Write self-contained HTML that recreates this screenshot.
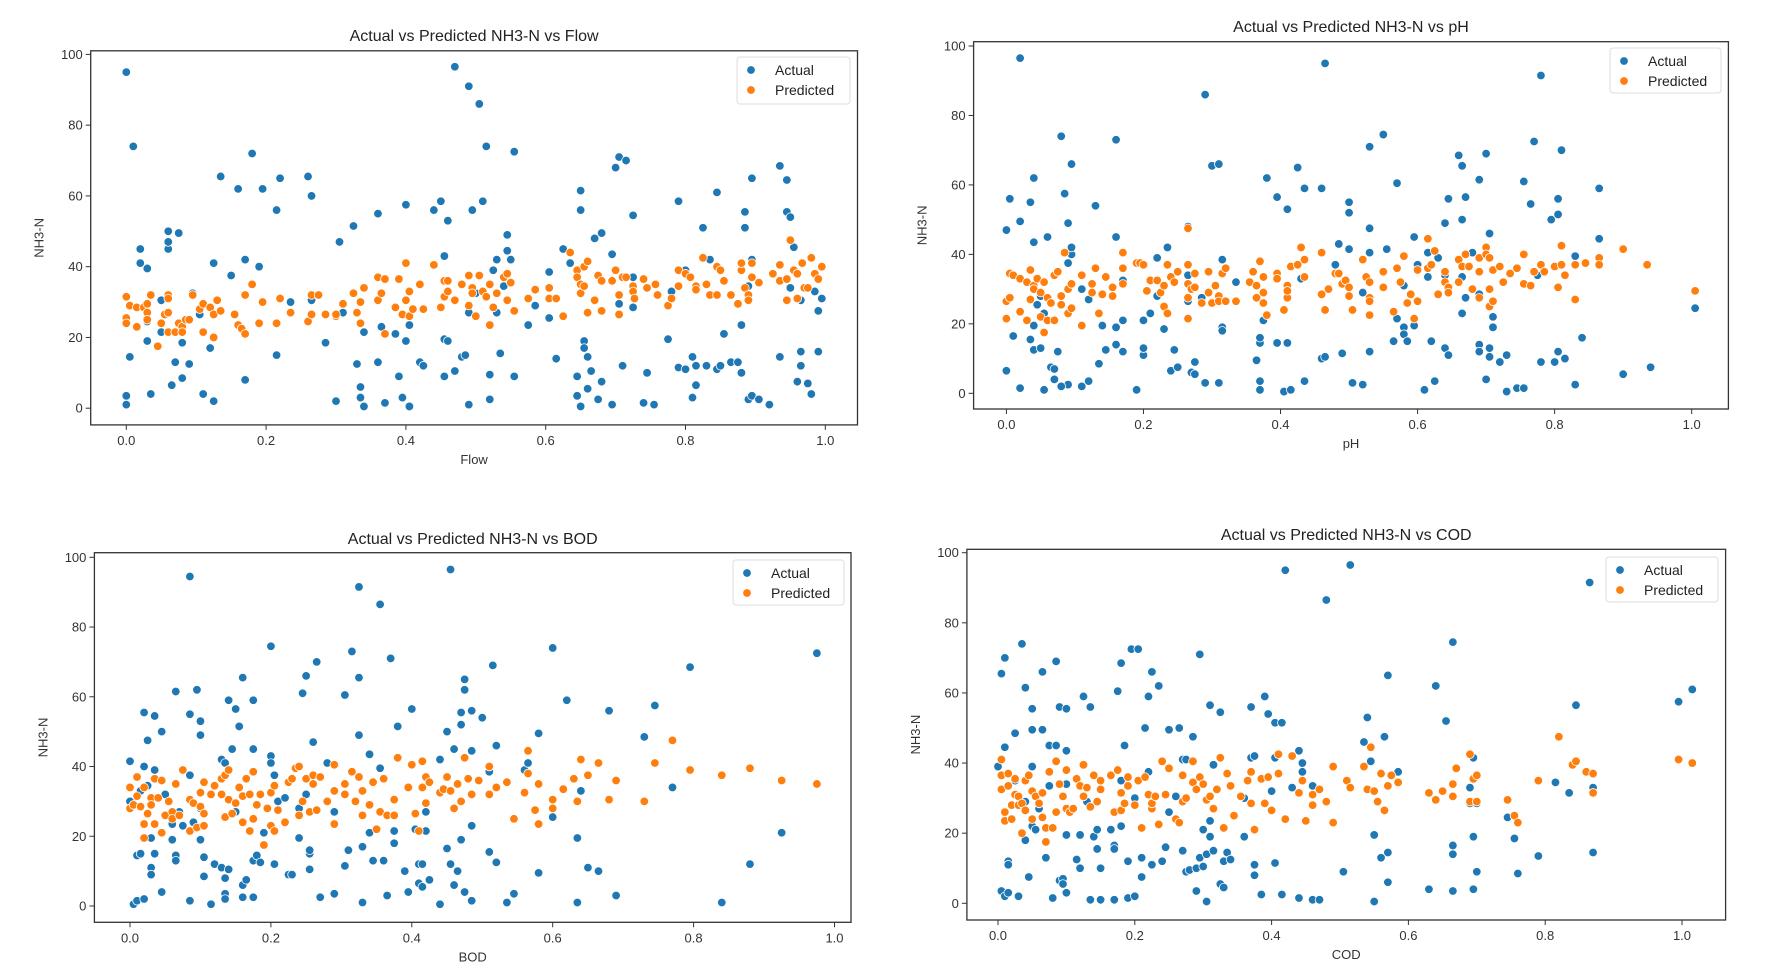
<!DOCTYPE html>
<html><head><meta charset="utf-8">
<style>
html,body{margin:0;padding:0;background:#fff;}
svg{display:block;font-family:"Liberation Sans",sans-serif;}
</style></head>
<body>
<svg id="fig" width="1772" height="971" viewBox="0 0 1772 971"></svg>
<script>
const yTicks=[0,20,40,60,80,100];
const xTicks=[0,0.2,0.4,0.6,0.8,1.0];
const xTickLabels=["0.0","0.2","0.4","0.6","0.8","1.0"];
const yTickLabels=["0","20","40","60","80","100"];
const titles=["Actual vs Predicted NH3-N vs Flow","Actual vs Predicted NH3-N vs pH","Actual vs Predicted NH3-N vs BOD","Actual vs Predicted NH3-N vs COD"];
const xLabels=["Flow","pH","BOD","COD"];

const flowActual=[[0,95],[0.01,74],[0,1],[0,3.5],[0.005,14.5],[0.02,41],[0.02,45],[0.03,39.5],[0.03,24.5],[0.03,19],[0.035,4],[0.05,30.5],[0.05,21.5],[0.06,45],[0.06,50],[0.06,47],[0.075,49.5],[0.065,6.5],[0.07,13],[0.08,8.5],[0.08,18.5],[0.09,12.5],[0.095,32.5],[0.105,26.5],[0.11,4],[0.125,41],[0.12,17],[0.125,2],[0.135,65.5],[0.15,37.5],[0.16,62],[0.17,42],[0.17,8],[0.18,72],[0.19,40],[0.195,62],[0.215,56],[0.22,65],[0.215,15],[0.235,30],[0.26,65.5],[0.265,60],[0.265,30.5],[0.285,18.5],[0.3,2],[0.305,47],[0.31,27],[0.325,51.5],[0.33,12.5],[0.335,6],[0.335,3],[0.34,0.5],[0.34,21.5],[0.36,55],[0.36,13],[0.365,23],[0.37,1.5],[0.385,21],[0.39,9],[0.395,3],[0.4,57.5],[0.4,19],[0.405,23.5],[0.405,0.5],[0.42,13],[0.425,12],[0.44,56],[0.45,58.5],[0.46,53],[0.455,43],[0.455,19.5],[0.46,19],[0.455,9],[0.47,96.5],[0.47,10.5],[0.48,14.5],[0.485,15],[0.49,91],[0.49,1],[0.495,56],[0.505,86],[0.51,58.5],[0.515,74],[0.49,27],[0.5,32.5],[0.52,9.5],[0.52,2.5],[0.525,39],[0.53,42],[0.53,27],[0.535,15.5],[0.545,49],[0.545,44.5],[0.55,42],[0.555,72.5],[0.555,9],[0.54,34.5],[0.575,23.5],[0.585,29],[0.605,38.5],[0.605,25.5],[0.615,14],[0.625,45],[0.635,41],[0.65,61.5],[0.65,56],[0.655,19],[0.655,17],[0.66,14.5],[0.665,10.5],[0.66,5.5],[0.645,9],[0.645,3.5],[0.65,0.5],[0.67,48],[0.68,49.5],[0.68,7.5],[0.675,2.5],[0.695,43.5],[0.695,1],[0.7,68],[0.705,71],[0.715,70],[0.705,29.5],[0.71,12],[0.725,54.5],[0.725,28.5],[0.725,37],[0.745,10],[0.74,1.5],[0.755,1],[0.775,19.5],[0.78,33],[0.79,58.5],[0.79,11.5],[0.8,11],[0.8,39],[0.81,14.5],[0.81,3],[0.815,6.5],[0.815,12],[0.825,51],[0.83,12],[0.835,42],[0.845,61],[0.845,11],[0.85,12],[0.855,21],[0.865,13],[0.875,13],[0.88,23.5],[0.88,10],[0.885,51],[0.885,55.5],[0.89,2.5],[0.895,65],[0.895,42],[0.89,34.5],[0.895,3.5],[0.905,2.5],[0.92,1],[0.935,14.5],[0.935,68.5],[0.945,64.5],[0.945,55.5],[0.95,54],[0.955,45.5],[0.95,34],[0.96,7.5],[0.965,16],[0.965,12],[0.965,30.5],[0.975,7],[0.98,4],[0.985,33],[0.99,16],[0.99,27.5],[0.995,31]];
const flowPred=[[0,31.5],[0,25.5],[0,24],[0.005,29],[0.015,23],[0.015,28.5],[0.025,28.5],[0.03,29.5],[0.03,27],[0.035,32],[0.03,25],[0.05,24],[0.045,17.5],[0.055,26.5],[0.06,32],[0.06,31],[0.06,27],[0.06,21.5],[0.07,21.5],[0.075,24],[0.08,23],[0.08,21.5],[0.085,25],[0.09,25],[0.095,32],[0.105,28],[0.11,29.5],[0.11,21.5],[0.12,28.5],[0.125,26.5],[0.125,20],[0.13,30.5],[0.135,27.5],[0.155,26.5],[0.16,23.5],[0.165,22.5],[0.17,21],[0.17,32],[0.18,35],[0.19,24],[0.195,30],[0.215,24],[0.22,31],[0.235,27],[0.26,24.5],[0.265,32],[0.265,26.5],[0.275,32],[0.285,26.5],[0.3,26],[0.3,26.5],[0.31,29.5],[0.325,32.5],[0.33,27],[0.335,24],[0.335,30],[0.34,34],[0.36,37],[0.36,30.5],[0.365,32.5],[0.37,36.5],[0.37,21],[0.385,28.5],[0.39,36.5],[0.395,26.5],[0.4,30.5],[0.4,41],[0.405,33],[0.405,26],[0.41,28],[0.42,35],[0.425,28],[0.44,40.5],[0.45,28.5],[0.455,31.5],[0.455,36],[0.46,33],[0.46,36],[0.47,30.5],[0.48,35],[0.49,37.5],[0.49,29],[0.495,34],[0.495,32.5],[0.5,26],[0.505,37.5],[0.51,33],[0.515,31.5],[0.52,23.5],[0.525,28.5],[0.52,35],[0.53,32.5],[0.54,37],[0.545,38],[0.545,30.5],[0.55,35.5],[0.555,27.5],[0.575,31],[0.585,33.5],[0.605,34],[0.605,31],[0.615,31],[0.625,26],[0.635,44],[0.645,39],[0.645,37],[0.65,32.5],[0.65,35],[0.655,40],[0.66,41.5],[0.66,27],[0.655,34.5],[0.67,30.5],[0.675,37.5],[0.68,36],[0.68,27.5],[0.695,36],[0.7,39],[0.705,32],[0.705,26.5],[0.71,37],[0.715,37],[0.725,34.5],[0.725,33],[0.727,31],[0.74,36.5],[0.745,34],[0.757,35],[0.76,32],[0.775,29],[0.78,31],[0.79,34.5],[0.79,39],[0.8,38],[0.807,37],[0.815,34.5],[0.815,33.5],[0.825,42.5],[0.83,35],[0.835,32],[0.845,32],[0.845,40],[0.85,39],[0.855,36],[0.865,32],[0.875,29.5],[0.88,39],[0.88,41],[0.885,34],[0.89,32],[0.89,30.5],[0.895,41],[0.895,37],[0.905,35.5],[0.925,38],[0.935,36],[0.935,40.5],[0.945,30.5],[0.945,36.5],[0.95,47.5],[0.955,39],[0.96,31],[0.96,38],[0.967,41],[0.97,34],[0.975,34],[0.98,42.5],[0.985,38],[0.99,36.5],[0.995,40]];

const phActual=[[0,47],[0.005,56],[0,6.5],[0.02,96.5],[0.02,49.5],[0.01,16.5],[0.02,1.5],[0.035,55],[0.04,43.5],[0.04,62],[0.035,15.5],[0.04,12.5],[0.04,19.5],[0.045,25.5],[0.05,28],[0.055,23],[0.05,13],[0.06,45],[0.055,1],[0.065,7.5],[0.07,7],[0.07,4],[0.075,12],[0.08,74],[0.085,57.5],[0.09,49],[0.09,37.5],[0.095,40],[0.095,42],[0.095,66],[0.09,2.5],[0.08,2],[0.11,30],[0.11,2],[0.13,54],[0.12,27],[0.12,3.5],[0.135,8.5],[0.14,19.5],[0.145,12.5],[0.16,73],[0.16,45],[0.16,14],[0.16,19],[0.17,32.5],[0.17,21],[0.17,12],[0.19,1],[0.2,11],[0.2,13],[0.2,21],[0.21,23],[0.22,39],[0.22,28],[0.235,42],[0.23,18.5],[0.245,12.5],[0.24,6.5],[0.25,7.5],[0.265,48],[0.265,34],[0.265,26.5],[0.27,6],[0.275,5.5],[0.275,9],[0.285,27.5],[0.29,86],[0.29,3],[0.3,65.5],[0.31,66],[0.315,38.5],[0.315,19],[0.315,18],[0.31,3],[0.335,32],[0.365,9.5],[0.37,14.5],[0.37,16],[0.37,3.5],[0.37,1],[0.375,21],[0.38,62],[0.395,56.5],[0.395,14.5],[0.41,53],[0.41,30.5],[0.41,14.5],[0.405,0.5],[0.415,1],[0.425,65],[0.43,33],[0.435,59],[0.435,3.5],[0.46,59],[0.46,10],[0.465,95],[0.465,10.5],[0.48,37],[0.485,43],[0.49,11.5],[0.5,55],[0.5,52],[0.5,41.5],[0.505,3],[0.52,2.5],[0.52,29],[0.53,71],[0.53,47.5],[0.53,40.5],[0.53,12],[0.55,74.5],[0.555,41.5],[0.565,15],[0.57,60.5],[0.57,21.5],[0.58,19],[0.58,17],[0.585,15],[0.58,31],[0.595,45],[0.595,19.5],[0.6,37],[0.61,1],[0.615,40.5],[0.615,33.5],[0.62,15],[0.625,3.5],[0.63,39],[0.64,49],[0.64,34],[0.64,13],[0.645,56],[0.645,11],[0.66,68.5],[0.665,65.5],[0.665,50],[0.665,33.5],[0.665,23],[0.67,56.5],[0.67,27.5],[0.68,40.5],[0.69,61.5],[0.69,28.5],[0.69,14],[0.69,12],[0.7,69],[0.7,4],[0.705,46],[0.705,13],[0.705,10.5],[0.71,22],[0.71,19],[0.72,9],[0.73,0.5],[0.73,11],[0.745,1.5],[0.755,61],[0.755,1.5],[0.765,54.5],[0.77,72.5],[0.775,34],[0.78,91.5],[0.78,9],[0.795,50],[0.8,9],[0.805,56],[0.805,51.5],[0.805,12],[0.81,70],[0.815,10],[0.83,39.5],[0.83,2.5],[0.84,16],[0.865,44.5],[0.865,59],[0.9,5.5],[0.94,7.5],[1.005,24.5]];
const phPred=[[0,21.5],[0,26.5],[0.005,27.5],[0.005,34.5],[0.01,34],[0.02,33],[0.02,23.5],[0.03,21],[0.03,32],[0.035,35.5],[0.035,27],[0.04,31],[0.04,30],[0.045,33],[0.05,29],[0.05,22],[0.055,32],[0.055,17.5],[0.06,27.5],[0.06,21],[0.065,26],[0.07,21],[0.07,34],[0.075,35],[0.08,28],[0.08,25.5],[0.085,40.5],[0.09,30],[0.09,23],[0.095,24.5],[0.095,31.5],[0.11,34],[0.11,19.5],[0.125,31.5],[0.125,29],[0.13,36],[0.135,23],[0.14,28.5],[0.145,33.5],[0.155,30.5],[0.155,28],[0.17,40.5],[0.17,36],[0.17,31.5],[0.19,37.5],[0.195,37.5],[0.2,37],[0.205,29.5],[0.21,32.5],[0.22,32.5],[0.225,29],[0.23,31],[0.23,25],[0.235,23],[0.235,37],[0.24,33.5],[0.245,32],[0.25,35],[0.265,47.5],[0.265,37],[0.265,31.5],[0.27,30],[0.265,27.5],[0.265,21.5],[0.275,34.5],[0.275,30.5],[0.285,26],[0.295,35],[0.295,29],[0.3,26],[0.305,31],[0.31,28],[0.31,26.5],[0.315,34.5],[0.32,36],[0.32,26.5],[0.335,26.5],[0.355,32],[0.36,35],[0.365,31],[0.365,27.5],[0.37,38],[0.375,33.5],[0.375,29],[0.375,26],[0.38,22.5],[0.395,34.5],[0.395,33],[0.405,24],[0.41,31],[0.41,27.5],[0.41,29.5],[0.415,36.5],[0.425,37],[0.43,42],[0.435,33.5],[0.435,38.5],[0.46,28.5],[0.46,40.5],[0.465,24],[0.47,30],[0.48,34.5],[0.485,34.5],[0.49,31.5],[0.495,32.5],[0.5,28],[0.5,30.5],[0.505,24],[0.52,38.5],[0.525,33.5],[0.53,27.5],[0.53,26.5],[0.53,22.5],[0.53,32],[0.55,35],[0.55,30.5],[0.565,23.5],[0.57,36],[0.575,32],[0.58,39.5],[0.585,26],[0.59,28.5],[0.595,21.5],[0.6,26.5],[0.6,35.5],[0.615,36],[0.615,44.5],[0.62,37],[0.625,41],[0.63,28.5],[0.64,32],[0.64,35],[0.645,30.5],[0.645,29],[0.66,38.5],[0.66,32],[0.665,36.5],[0.67,40],[0.675,36.5],[0.68,30],[0.69,39],[0.69,35],[0.69,27.5],[0.7,42],[0.7,40],[0.705,39],[0.705,30],[0.705,25],[0.71,26.5],[0.71,35.5],[0.72,36.5],[0.725,32],[0.735,34.5],[0.745,36],[0.755,40],[0.755,31.5],[0.765,31],[0.77,35],[0.78,37],[0.785,35],[0.8,36.5],[0.805,30.5],[0.81,42.5],[0.81,37],[0.815,34],[0.83,37],[0.83,27],[0.845,37.5],[0.865,39],[0.865,37],[0.9,41.5],[0.935,37],[1.005,29.5]];

const bodActual=[[0,41.5],[0,30],[0.005,0.5],[0.01,1.5],[0.02,2],[0.01,14.5],[0.015,15],[0.015,33],[0.02,55.5],[0.02,40],[0.025,47.5],[0.025,34.5],[0.03,19.5],[0.03,11],[0.03,9],[0.035,39],[0.035,54.5],[0.035,15],[0.045,50],[0.045,4],[0.05,32],[0.06,19],[0.06,23.5],[0.065,14.5],[0.065,13],[0.065,61.5],[0.07,27],[0.075,23],[0.085,55],[0.085,37.5],[0.085,94.5],[0.085,1.5],[0.09,24],[0.095,62],[0.1,53],[0.1,49],[0.1,19],[0.1,28],[0.105,8.5],[0.105,14],[0.115,0.5],[0.12,12],[0.13,11],[0.13,42],[0.135,41],[0.135,8],[0.135,3.5],[0.135,2],[0.14,10.5],[0.14,59],[0.145,45],[0.15,56.5],[0.15,27],[0.155,51.5],[0.16,65.5],[0.16,2.5],[0.16,6],[0.165,7.5],[0.175,45],[0.175,59],[0.175,13],[0.175,2.5],[0.18,14.5],[0.185,12.5],[0.19,21],[0.2,43],[0.2,41],[0.2,74.5],[0.205,37.5],[0.205,12],[0.21,30],[0.22,31],[0.225,9],[0.23,9],[0.24,19.5],[0.24,28],[0.245,61],[0.25,66],[0.25,32],[0.255,10.5],[0.255,15],[0.255,16],[0.26,47],[0.265,70],[0.27,2.5],[0.28,41],[0.29,27],[0.29,3.5],[0.305,60.5],[0.305,11.5],[0.31,16],[0.315,73],[0.325,65.5],[0.325,49],[0.325,91.5],[0.33,17],[0.33,1],[0.34,21],[0.34,43.5],[0.345,13],[0.355,39.5],[0.355,86.5],[0.36,13],[0.365,3],[0.37,71],[0.375,21.5],[0.375,18],[0.38,51.5],[0.39,10],[0.395,4],[0.4,56.5],[0.405,22],[0.41,12],[0.41,6.5],[0.415,5.5],[0.415,12],[0.42,27],[0.42,21.5],[0.425,7.5],[0.44,42],[0.44,0.5],[0.45,50],[0.45,16.5],[0.455,96.5],[0.455,12],[0.46,45],[0.46,6],[0.465,10],[0.47,55.5],[0.47,52],[0.47,19],[0.475,65],[0.475,62],[0.475,4],[0.485,56],[0.485,44.5],[0.485,23],[0.485,1.5],[0.5,54],[0.51,38.5],[0.51,15.5],[0.515,69],[0.52,46],[0.52,12.5],[0.535,1],[0.545,3.5],[0.56,39],[0.565,41],[0.58,49.5],[0.58,9.5],[0.6,74],[0.6,25.5],[0.62,59],[0.635,19.5],[0.635,1],[0.64,33],[0.65,11],[0.665,10],[0.68,56],[0.69,3],[0.73,48.5],[0.745,57.5],[0.77,34],[0.795,68.5],[0.84,1],[0.88,12],[0.925,21],[0.975,72.5]];
const bodPred=[[0,28],[0,34],[0.005,29],[0.01,31.5],[0.01,37],[0.015,28.5],[0.02,23.5],[0.02,19.5],[0.02,34],[0.025,26.5],[0.03,31],[0.03,29],[0.035,36.5],[0.035,23.5],[0.04,31],[0.045,36],[0.045,21],[0.05,26],[0.055,30],[0.06,27],[0.06,25],[0.065,35],[0.07,26],[0.075,39],[0.085,30.5],[0.085,21.5],[0.09,29.5],[0.095,22.5],[0.1,32.5],[0.1,28.5],[0.105,35.5],[0.105,26.5],[0.105,23],[0.115,32],[0.12,34.5],[0.13,36.5],[0.13,32],[0.135,37.5],[0.135,25.5],[0.14,30.5],[0.14,39],[0.145,26.5],[0.15,29.5],[0.155,34],[0.16,31.5],[0.16,24],[0.165,36.5],[0.17,32],[0.17,21.5],[0.175,38.5],[0.175,25],[0.18,29],[0.185,32],[0.19,17.5],[0.195,28],[0.2,23],[0.2,32.5],[0.205,34.5],[0.205,21.5],[0.21,27.5],[0.22,24],[0.225,35.5],[0.23,36.5],[0.235,39.5],[0.24,40],[0.24,26],[0.245,30],[0.25,36.5],[0.255,27],[0.26,37.5],[0.26,35],[0.265,27.5],[0.27,37],[0.28,30],[0.29,40.5],[0.29,33],[0.29,23.5],[0.305,35],[0.305,32],[0.315,38.5],[0.32,30],[0.325,37],[0.33,33],[0.33,26],[0.34,29],[0.345,35.5],[0.35,22],[0.355,27],[0.36,36.5],[0.365,26],[0.375,26],[0.375,30.5],[0.38,42.5],[0.395,34],[0.4,40.5],[0.405,26.5],[0.41,21.5],[0.415,34],[0.415,41.5],[0.42,37],[0.42,29.5],[0.425,35.5],[0.44,32.5],[0.445,33.5],[0.45,37],[0.455,33],[0.46,28],[0.465,35],[0.47,30],[0.475,42.5],[0.48,36.5],[0.485,32],[0.495,36],[0.51,40],[0.51,32],[0.52,34],[0.535,35.5],[0.545,25],[0.56,32.5],[0.565,38],[0.565,44.5],[0.575,27.5],[0.58,23.5],[0.58,35],[0.6,28],[0.6,30.5],[0.615,33.5],[0.63,36.5],[0.635,30],[0.64,42],[0.65,37.5],[0.665,41],[0.68,30.5],[0.69,36],[0.73,30],[0.745,41],[0.77,47.5],[0.795,39],[0.84,37.5],[0.88,39.5],[0.925,36],[0.975,35]];

const codActual=[[0.005,65.5],[0,39],[0.01,44.5],[0.01,70],[0.005,3.5],[0.01,2],[0.015,3],[0.015,12],[0.015,11],[0.025,48.5],[0.025,35],[0.03,2],[0.035,74],[0.04,61.5],[0.04,18],[0.04,29],[0.045,7.5],[0.05,55.5],[0.05,49.5],[0.05,39],[0.05,22],[0.055,21],[0.06,27],[0.065,66],[0.065,49.5],[0.07,13],[0.075,45],[0.075,33.5],[0.08,1.5],[0.085,69],[0.085,45],[0.09,56],[0.09,6.5],[0.095,7],[0.095,5.5],[0.1,3],[0.1,34],[0.1,55.5],[0.1,43.5],[0.1,19.5],[0.11,27],[0.115,12.5],[0.12,10],[0.12,19.5],[0.125,59],[0.13,29],[0.135,56],[0.135,1],[0.14,19],[0.145,21],[0.145,15.5],[0.15,1],[0.15,10],[0.165,21],[0.17,16.5],[0.17,15.5],[0.17,1],[0.175,60.5],[0.18,68.5],[0.18,35],[0.18,22],[0.185,45],[0.19,12],[0.19,1.5],[0.195,72.5],[0.2,2],[0.2,30],[0.205,72.5],[0.21,13],[0.21,7.5],[0.215,50],[0.22,59],[0.22,37.5],[0.225,66],[0.225,11],[0.235,62],[0.24,12],[0.245,16],[0.25,26],[0.25,49.5],[0.26,30.5],[0.265,50],[0.27,41],[0.27,15],[0.275,41],[0.275,9],[0.28,9.5],[0.285,47.5],[0.29,10],[0.29,3.5],[0.295,71],[0.295,13],[0.3,21],[0.3,10.5],[0.305,0.5],[0.305,14],[0.31,56.5],[0.31,23.5],[0.31,19],[0.315,39.5],[0.315,15],[0.325,54.5],[0.325,5.5],[0.33,4.5],[0.33,12],[0.335,14.5],[0.34,12.5],[0.36,30],[0.36,19],[0.37,56],[0.37,41.5],[0.375,42],[0.375,11],[0.375,8],[0.385,2.5],[0.39,59],[0.395,54],[0.4,32],[0.405,51.5],[0.405,41.5],[0.405,11.5],[0.415,51.5],[0.415,2.5],[0.42,95],[0.43,33],[0.44,43.5],[0.44,1.5],[0.445,37.5],[0.445,40],[0.46,33.5],[0.46,1],[0.47,1],[0.48,86.5],[0.49,23],[0.505,9],[0.515,96.5],[0.535,46],[0.54,53],[0.545,40.5],[0.55,0.5],[0.55,19.5],[0.56,13],[0.565,47.5],[0.57,14.5],[0.57,6],[0.57,65],[0.585,37.5],[0.63,4],[0.64,62],[0.655,52],[0.665,74.5],[0.665,14],[0.665,16.5],[0.665,3.5],[0.69,28.5],[0.69,33],[0.695,19],[0.695,4],[0.695,41.5],[0.7,9],[0.7,28.5],[0.745,24.5],[0.755,18.5],[0.76,8.5],[0.79,13.5],[0.815,34.5],[0.835,31.5],[0.845,56.5],[0.865,91.5],[0.87,14.5],[0.87,33],[0.995,57.5],[1.015,61]];
const codPred=[[0.005,41],[0.005,36.5],[0.005,32.5],[0.01,26],[0.01,23.5],[0.015,37],[0.015,33.5],[0.02,28],[0.02,24],[0.025,35.5],[0.025,31],[0.03,28],[0.03,30.5],[0.035,20],[0.035,28.5],[0.04,26.5],[0.04,35],[0.045,36.5],[0.05,32],[0.05,24],[0.055,30.5],[0.06,28.5],[0.065,31.5],[0.065,24.5],[0.07,17.5],[0.07,21.5],[0.075,37.5],[0.08,21.5],[0.085,40.5],[0.085,26],[0.09,34],[0.095,30.5],[0.1,27],[0.1,38],[0.105,26],[0.11,27],[0.115,35.5],[0.12,33.5],[0.125,39.5],[0.125,30.5],[0.13,33],[0.135,27.5],[0.14,36.5],[0.145,29],[0.15,32.5],[0.15,35],[0.165,36.5],[0.17,26],[0.175,38],[0.18,26.5],[0.18,31.5],[0.185,28.5],[0.19,36],[0.19,33.5],[0.2,28],[0.205,35],[0.21,21.5],[0.215,36],[0.22,31],[0.225,27],[0.225,28.5],[0.23,30.5],[0.235,22.5],[0.24,40.5],[0.245,31],[0.25,38.5],[0.26,24],[0.265,23],[0.27,29],[0.27,36.5],[0.275,30],[0.285,34.5],[0.285,40.5],[0.29,32.5],[0.295,36],[0.3,34],[0.305,29.5],[0.31,30.5],[0.315,27],[0.32,32.5],[0.325,41.5],[0.33,21.5],[0.335,37],[0.34,33.5],[0.345,25],[0.355,30.5],[0.365,35],[0.37,37.5],[0.37,28.5],[0.375,21],[0.385,35.5],[0.39,28.5],[0.395,36],[0.4,26.5],[0.41,37],[0.41,42.5],[0.42,24],[0.43,42],[0.44,31.5],[0.445,35],[0.45,23.5],[0.46,31],[0.46,28],[0.47,32.5],[0.48,29],[0.49,39],[0.49,23],[0.51,35],[0.515,33],[0.535,39],[0.54,32.5],[0.545,44.5],[0.55,32],[0.555,29],[0.56,37],[0.565,26.5],[0.57,33.5],[0.575,36.5],[0.585,34.5],[0.63,31.5],[0.64,29.5],[0.65,32],[0.665,34],[0.665,30.5],[0.67,38.5],[0.69,29],[0.69,42.5],[0.695,35.5],[0.7,36.5],[0.7,29],[0.745,29.5],[0.755,25],[0.76,23],[0.79,35],[0.82,47.5],[0.84,39.5],[0.845,40.5],[0.86,37.5],[0.87,37],[0.87,31.5],[0.995,41],[1.015,40]];

const NS="http://www.w3.org/2000/svg";
const svg=document.getElementById('fig');
function mk(tag,attrs,parent){const e=document.createElementNS(NS,tag);for(const k in attrs)e.setAttribute(k,attrs[k]);(parent||svg).appendChild(e);return e;}

// layout per panel: frame box, data->pixel anchors
const panels=[
 {name:'flow',fl:90.7,fr:857.5,ft:50.8,fb:424.9,x0:126.3,x1:825.3,y0:408.2,y100:54.4,ty:36,lg:[737,57,113,47],act:flowActual,pred:flowPred},
 {name:'ph',fl:973.6,fr:1728.4,ft:41.7,fb:409,x0:1006.4,x1:1691.7,y0:393.3,y100:46,ty:27,lg:[1610,48,111,45],act:phActual,pred:phPred},
 {name:'bod',fl:94.4,fr:851,ft:552.7,fb:922.3,x0:130,x1:834.5,y0:906,y100:557.3,ty:539,lg:[733,560,111,45],act:bodActual,pred:bodPred},
 {name:'cod',fl:966.9,fr:1725.6,ft:549.3,fb:920,x0:998,x1:1682,y0:903.3,y100:552.7,ty:535,lg:[1606,557,112,45],act:codActual,pred:codPred}
];

panels.forEach((p,i)=>{
  const g=mk('g',{});
  
  
  const sx=v=>p.x0+(p.x1-p.x0)*v;
  const sy=v=>p.y0+(p.y100-p.y0)*v/100;
  const t=mk('text',{x:(p.fl+p.fr)/2,y:p.ty+5,'text-anchor':'middle','font-size':16,fill:'#222'},g);
  t.textContent=titles[i];
  
  
  // ticks
  xTicks.forEach((v,k)=>{
    const x=sx(v);
    mk('line',{x1:x,x2:x,y1:p.fb,y2:p.fb+5,stroke:'#333','stroke-width':1},g);
    const tl=mk('text',{x:x,y:p.fb+20,'text-anchor':'middle','font-size':13,fill:'#333'},g);
    tl.textContent=xTickLabels[k];
    
    
  });
  yTicks.forEach((v,k)=>{
    const y=sy(v);
    mk('line',{x1:p.fl-5,x2:p.fl,y1:y,y2:y,stroke:'#333','stroke-width':1},g);
    const tl=mk('text',{x:p.fl-8,y:y+4.5,'text-anchor':'end','font-size':13,fill:'#333'},g);
    tl.textContent=yTickLabels[k];
    
    
  });
  const xl=mk('text',{x:(p.fl+p.fr)/2,y:p.fb+39,'text-anchor':'middle','font-size':13,fill:'#333'},g);
  xl.textContent=xLabels[i];
  
  
  const yx=p.fl-47, yy=(p.ft+p.fb)/2;
  const yl=mk('text',{x:yx,y:yy,'text-anchor':'middle','font-size':13,fill:'#333',transform:`rotate(-90 ${yx} ${yy})`},g);
  yl.textContent='NH3-N';
  
  
  // points
  const drawSeries=(arr,color,nm)=>{
    const sg=mk('g',{},g);
    
    
    arr.forEach(d=>{
      const c=mk('circle',{cx:sx(d[0]),cy:sy(d[1]),r:4.3,fill:color,stroke:'#fff','stroke-width':0.8},sg);
      
      
    });
  };
  drawSeries(p.act,'#1f77b4','actual');
  drawSeries(p.pred,'#ff7f0e','predicted');
  // frame
  const fr=mk('rect',{x:p.fl,y:p.ft,width:p.fr-p.fl,height:p.fb-p.ft,fill:'none',stroke:'#333','stroke-width':1.3},g);
  
  
  // legend
  const [lx,ly,lw,lh]=p.lg;
  const lgG=mk('g',{},g);
  
  
  mk('rect',{x:lx,y:ly,width:lw,height:lh,rx:3,fill:'#fff','fill-opacity':0.85,stroke:'#ddd'},lgG);
  [['Actual','#1f77b4'],['Predicted','#ff7f0e']].forEach((e,k)=>{
    const cy=ly+13+k*20;
    const c=mk('circle',{cx:lx+14,cy:cy,r:4.3,fill:e[1],stroke:'#fff','stroke-width':0.8},lgG);
    
    
    const tx=mk('text',{x:lx+38,y:cy+5,'font-size':14,fill:'#222'},lgG);
    tx.textContent=e[0];
    
    
  });
});
</script>
</body></html>
